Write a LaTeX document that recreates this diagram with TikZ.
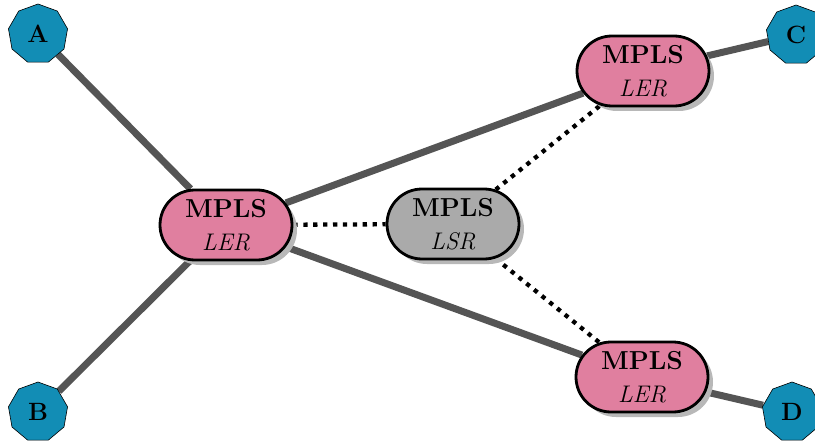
\documentclass[tikz,border=0pt]{standalone}
\usetikzlibrary{shapes.geometric,shapes.misc,shadows,backgrounds}
\definecolor{lerpink}{RGB}{224,127,159}
\definecolor{lsrgrey}{RGB}{170,170,170}
\definecolor{hostblue}{RGB}{18,141,181}
\definecolor{linkgrey}{RGB}{85,85,85}
\begin{document}
\begin{tikzpicture}[x=1pt,y=-1pt,
  router/.style={draw=black, line width=2.8pt, rounded rectangle,
    minimum width=132pt, minimum height=70pt, inner sep=0pt, align=center,
    font=\fontsize{26}{33}\selectfont,
    drop shadow={shadow xshift=5pt, shadow yshift=-5pt, fill=black!28, opacity=1}},
  ler/.style={router, fill=lerpink},
  lsr/.style={router, fill=lsrgrey},
  host/.style={draw=black, line width=0.6pt, fill=hostblue, regular polygon,
    regular polygon sides=9, minimum size=60pt, inner sep=0pt,
    font=\fontsize{25}{28}\selectfont\bfseries},
  link/.style={draw=linkgrey, line width=7pt},
  lsp/.style={draw=black, line width=4.3pt, dash pattern=on 4.3pt off 5.6pt}]
\useasboundingbox (0,0) rectangle (815,444);

% edge routers and core router
\node[ler] (west)  at (226,225) {\textbf{MPLS}\\{\fontsize{24}{33}\selectfont\itshape LER}};
\node[lsr] (core)  at (453,224) {\textbf{MPLS}\\{\fontsize{24}{33}\selectfont\itshape LSR}};
\node[ler] (north) at (643,71)  {\textbf{MPLS}\\{\fontsize{24}{33}\selectfont\itshape LER}};
\node[ler] (south) at (642,377) {\textbf{MPLS}\\{\fontsize{24}{33}\selectfont\itshape LER}};

% customer sites
\node[host] (A) at (38,34)  {A};
\node[host] (B) at (38,412) {B};
\node[host] (C) at (796,35) {C};
\node[host] (D) at (792,412) {D};

\begin{scope}[on background layer]
  \draw[link] (A) -- (west);
  \draw[link] (B) -- (west);
  \draw[link] (west) -- (north);
  \draw[link] (west) -- (south);
  \draw[link] (north) -- (C);
  \draw[link] (south) -- (D);
  \draw[lsp] (west) -- (core);
  \draw[lsp] (core) -- (north);
  \draw[lsp] (core) -- (south);
\end{scope}
\end{tikzpicture}
\end{document}
